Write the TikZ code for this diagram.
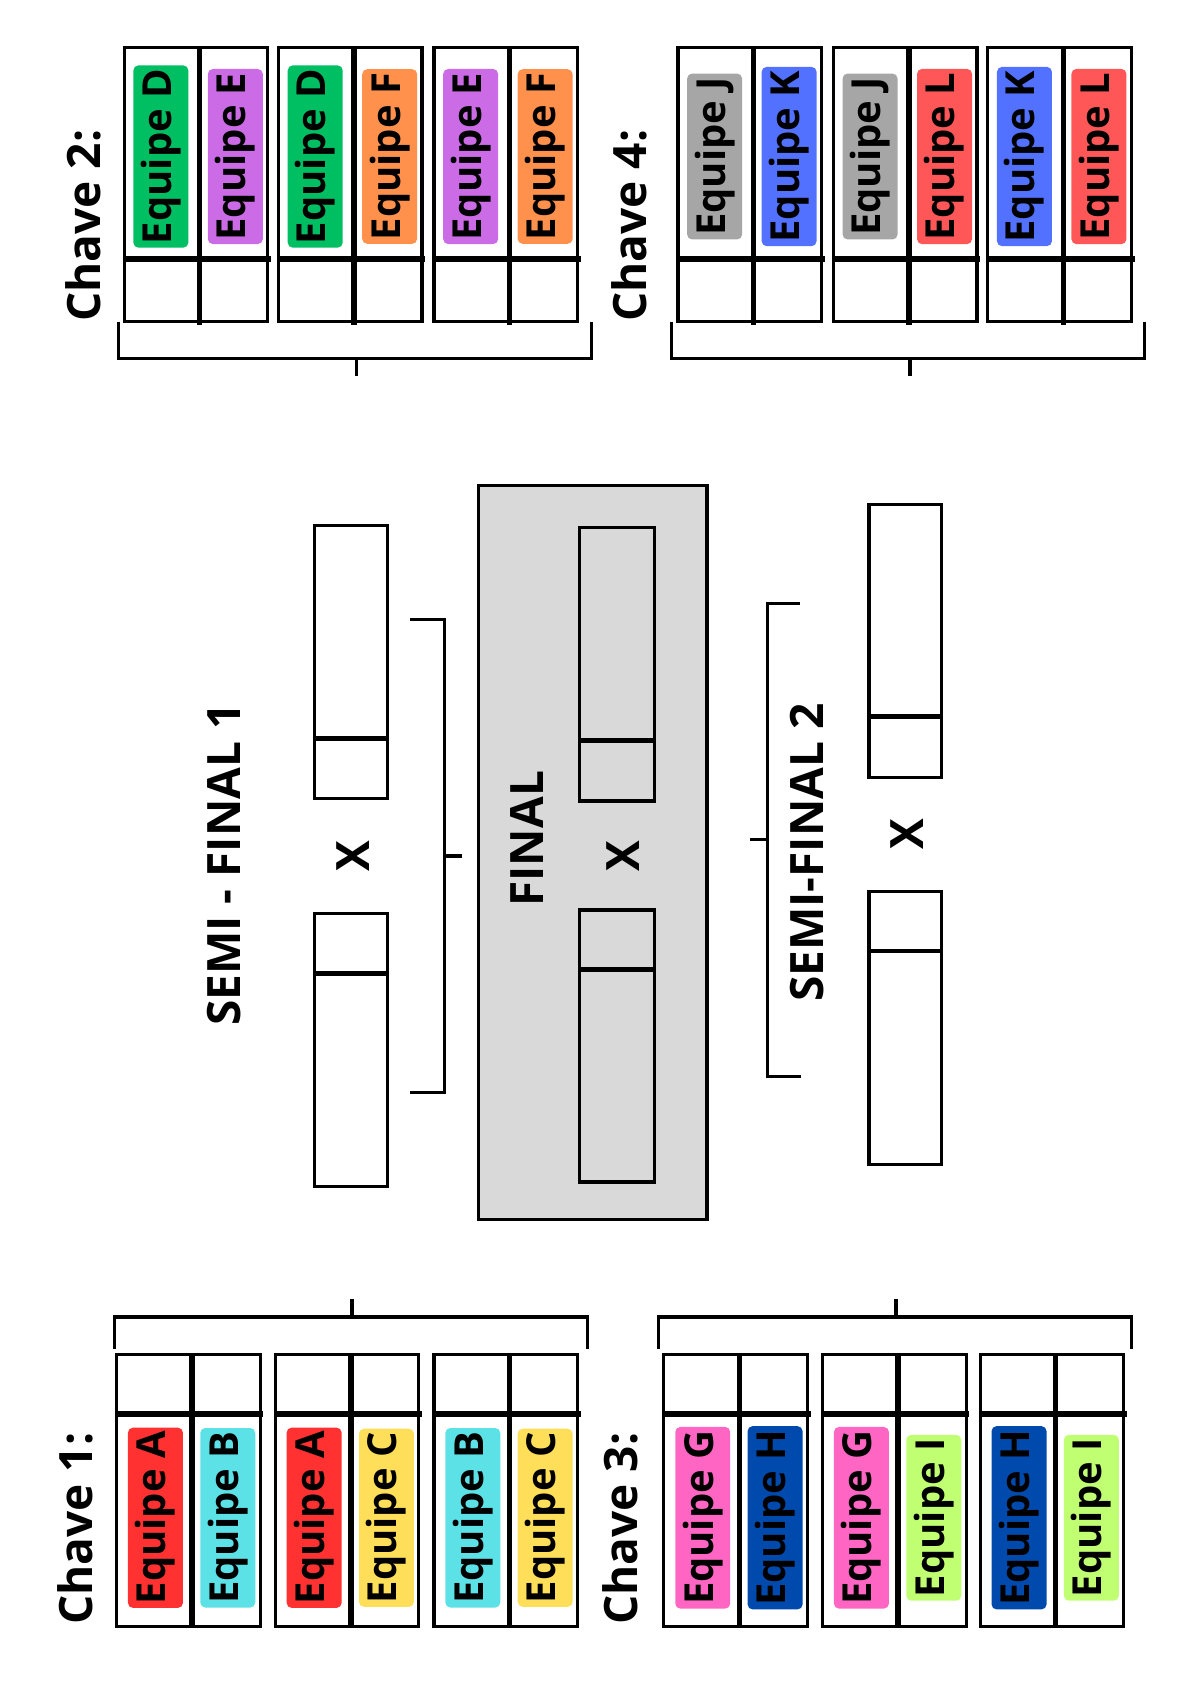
\documentclass[tikz,border=0pt]{standalone}
\usepackage{fontspec}
\setmainfont{Open Sans}
\definecolor{cA}{HTML}{FF3131}
\definecolor{cB}{HTML}{5CE1E6}
\definecolor{cC}{HTML}{FFDE59}
\definecolor{cD}{HTML}{00BF63}
\definecolor{cE}{HTML}{CB6CE6}
\definecolor{cF}{HTML}{FF914D}
\definecolor{cG}{HTML}{FF66C4}
\definecolor{cH}{HTML}{004AAD}
\definecolor{cI}{HTML}{C1FF72}
\definecolor{cJ}{HTML}{A6A6A6}
\definecolor{cK}{HTML}{5271FF}
\definecolor{cL}{HTML}{FF5757}
\definecolor{finalgray}{HTML}{D9D9D9}
\newcommand\grpT[6]{%
  \draw[boxline] (#2,44) rectangle (#2+133,298);
  \draw[divline] (#2+70,44) -- (#2+70,301);
  \draw[divline] (#2-1,240) -- (#2+136,240);
  \node[lab,fill=#3] (#1a) at (#2+34,145) {#4};
  \node[lab,fill=#5] (#1b) at (#2+103,145) {#6};
}
\newcommand\grpB[6]{%
  \draw[boxline] (#2,1255) rectangle (#2+133,1507);
  \draw[divline] (#2+70,1255) -- (#2+70,1507);
  \draw[divline] (#2-1,1310) -- (#2+136,1310);
  \node[lab,fill=#3] (#1a) at (#2+36,1406) {#4};
  \node[lab,fill=#5] (#1b) at (#2+103,1406) {#6};
}
\begin{document}
\begin{tikzpicture}[x={(0.54pt,0pt)}, y={(0pt,-0.54pt)},
  boxline/.style={line width=1.6pt},
  divline/.style={line width=2.7pt},
  midline/.style={line width=2.3pt},
  brk/.style={line width=1.6pt},
  lab/.style={rotate=90, rounded corners=2.5pt, inner xsep=1.8pt, inner ysep=0pt,
    minimum height=27.5pt, text=black, font=\fontsize{20}{24}\selectfont\bfseries},
  title/.style={rotate=90, font=\fontsize{23}{27}\selectfont\bfseries},
  vs/.style={rotate=90, font=\fontsize{23}{27}\selectfont\bfseries}]
\useasboundingbox (0,0) rectangle (1103,1560);

% ---- Chave 2 (top left)
\node[title] (ch2) at (77,209) {Chave 2:};
\grpT{c2g1}{115}{cD}{Equipe D}{cE}{Equipe E}
\grpT{c2g2}{258}{cD}{Equipe D}{cF}{Equipe F}
\grpT{c2g3}{402}{cE}{Equipe E}{cF}{Equipe F}
\draw[brk] (110,298) -- (110,332) -- (548,332) -- (548,298);
\draw[brk] (330,332) -- (330,348);

% ---- Chave 4 (top right)
\node[title] (ch4) at (583,209) {Chave 4:};
\grpT{c4g1}{628}{cJ}{Equipe J}{cK}{Equipe K}
\grpT{c4g2}{772}{cJ}{Equipe J}{cL}{Equipe L}
\grpT{c4g3}{915}{cK}{Equipe K}{cL}{Equipe L}
\draw[brk] (622,298) -- (622,332) -- (1060,332) -- (1060,298);
\draw[brk] (843,332) -- (843,348);

% ---- Chave 1 (bottom left)
\node[title] (ch1) at (70,1416) {Chave 1:};
\grpB{c1g1}{108}{cA}{Equipe A}{cB}{Equipe B}
\grpB{c1g2}{255}{cA}{Equipe A}{cC}{Equipe C}
\grpB{c1g3}{402}{cB}{Equipe B}{cC}{Equipe C}
\draw[brk] (106,1250) -- (106,1220) -- (544,1220) -- (544,1250);
\draw[brk] (326,1220) -- (326,1203);

% ---- Chave 3 (bottom right)
\node[title] (ch3) at (575,1416) {Chave 3:};
\grpB{c3g1}{615}{cG}{Equipe G}{cH}{Equipe H}
\grpB{c3g2}{762}{cG}{Equipe G}{cI}{Equipe I}
\grpB{c3g3}{908}{cH}{Equipe H}{cI}{Equipe I}
\draw[brk] (610,1250) -- (610,1220) -- (1048,1220) -- (1048,1250);
\draw[brk] (830,1220) -- (830,1203);

% ---- Final
\draw[boxline,fill=finalgray] (443,450) rectangle (655,1130);
\node[title] (fin) at (488,777) {FINAL};
\draw[boxline] (537,489) rectangle (606,742);
\draw[midline] (537,686) -- (606,686);
\draw[boxline] (537,843) rectangle (606,1095);
\draw[midline] (537,898) -- (606,898);
\node[vs] (xf) at (577,793) {X};

% ---- Semi-final 1
\node[title] (sf1) at (208,801) {SEMI - FINAL 1};
\draw[boxline,fill=white] (291,487) rectangle (359,740);
\draw[midline] (291,684) -- (359,684);
\draw[boxline,fill=white] (291,846) rectangle (359,1099);
\draw[midline] (291,902) -- (360,902);
\node[vs] (x1) at (327,793) {X};
\draw[brk] (380,574) -- (412,574) -- (412,1012) -- (380,1012);
\draw[brk] (412,793) -- (428,793);

% ---- Semi-final 2
\node[title] (sf2) at (748,790) {SEMI-FINAL 2};
\draw[boxline,fill=white] (805,467) rectangle (872,720);
\draw[midline] (805,664) -- (872,664);
\draw[boxline,fill=white] (805,826) rectangle (872,1079);
\draw[midline] (805,881) -- (873,881);
\node[vs] (x2) at (840,773) {X};
\draw[brk] (741,559) -- (711,559) -- (711,997) -- (742,997);
\draw[brk] (711,778) -- (695,778);
\end{tikzpicture}
\end{document}
